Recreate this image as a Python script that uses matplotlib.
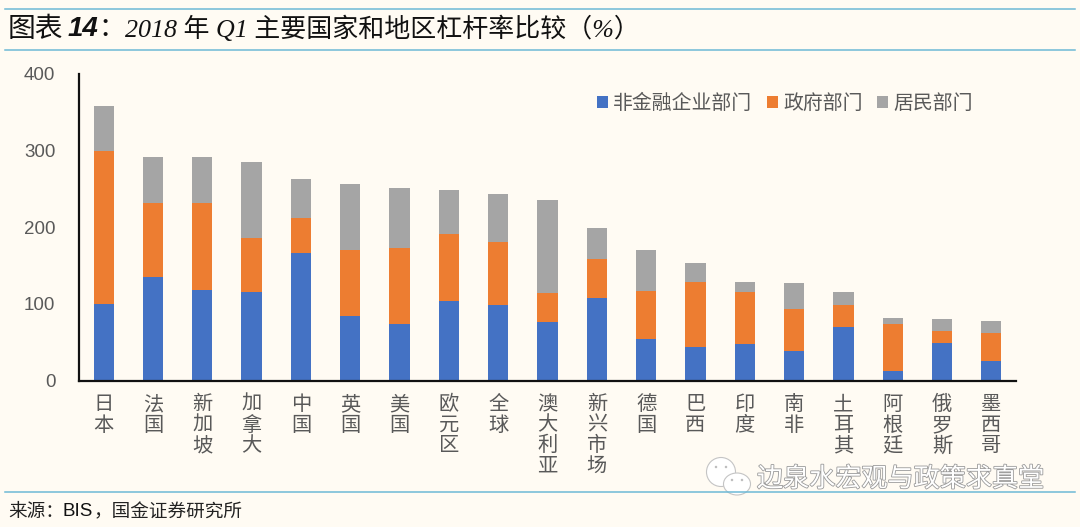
import matplotlib
matplotlib.use('Agg')
import matplotlib.pyplot as plt
import matplotlib.patheffects as pe
from matplotlib.patches import Ellipse
import numpy as np

plt.rcParams['font.family'] = ['Liberation Sans', 'Noto Sans CJK SC', 'DejaVu Sans']

countries = ['日本', '法国', '新加坡', '加拿大', '中国', '英国', '美国', '欧元区', '全球', '澳大利亚',
             '新兴市场', '德国', '巴西', '印度', '南非', '土耳其', '阿根廷', '俄罗斯', '墨西哥']
corporate = [100, 135, 118, 115, 166, 84, 74, 104, 98, 76, 108, 54, 44, 47, 38, 70, 13, 49, 26]
government = [200, 97, 114, 71, 46, 86, 99, 87, 83, 38, 50, 63, 84, 69, 55, 28, 61, 15, 36]
household = [58, 60, 60, 99, 51, 87, 78, 58, 62, 122, 41, 53, 25, 12, 34, 17, 7, 16, 16]
series_names = ['非金融企业部门', '政府部门', '居民部门']
yticks = [0, 100, 200, 300, 400]

BG = '#FFFBF3'
W, H = 1080, 527
fig = plt.figure(figsize=(W / 100, H / 100), dpi=100, facecolor=BG)

# axes placed in pixels of the reference
ax = fig.add_axes([79 / W, 1 - 380.5 / H, (1016 - 79) / W, (380.5 - 74) / H], facecolor=BG)
x = np.arange(len(countries))
corporate, government, household = map(np.array, (corporate, government, household))
ax.bar(x, corporate, 0.41, color='#4472C4', label=series_names[0])
ax.bar(x, government, 0.41, bottom=corporate, color='#ED7D31', label=series_names[1])
ax.bar(x, household, 0.41, bottom=corporate + government, color='#A5A5A5', label=series_names[2])

ax.set_xlim(-0.5, 18.5)
ax.set_ylim(0, 400)
ax.set_yticks(yticks)
ax.set_xticks(x)
ax.set_xticklabels(['\n'.join(c) for c in countries], linespacing=1.1, va='top')
ax.tick_params(axis='x', length=0, pad=10.5, labelsize=14.6, labelcolor='#595959')
ax.tick_params(axis='y', length=0, pad=17, labelsize=13.5, labelcolor='#595959')
for s in ('top', 'right'):
    ax.spines[s].set_visible(False)
for s in ('left', 'bottom'):
    ax.spines[s].set_linewidth(1.6)
    ax.spines[s].set_color('#111111')

ax.legend(loc='upper left', bbox_to_anchor=(0.553, 0.935), ncol=3, frameon=False, fontsize=14.3,
          labelcolor='#595959', handlelength=0.55, handleheight=0.55, handletextpad=0.25, columnspacing=0.75,
          borderpad=0, borderaxespad=0)

# header / footer rules
for yp in (9, 50, 492):
    fig.add_artist(plt.Line2D([5 / W, 1075 / W], [1 - yp / H] * 2, color='#6DB9D6', lw=1.1))

fig.text(8 / W, 1 - 29 / H, '图表', fontsize=20, color='#111111', va='center', family=['Noto Sans CJK SC'])
fig.text(68 / W, 1 - 29 / H, '14', fontsize=20, fontweight='bold', style='italic', color='#111111', va='center')
fig.text(98 / W, 1 - 29 / H, '：', fontsize=19, color='#111111', va='center', family=['Noto Sans CJK SC'])
fig.text(125 / W, 1 - 29 / H, '2018 年 Q1 主要国家和地区杠杆率比较（%）', fontsize=18.7, color='#111111', va='center',
         style='italic', family=['Liberation Serif', 'Noto Sans CJK SC'])
fig.text(8 / W, 1 - 512 / H, '来源：', fontsize=13.4, color='#222222', va='center', family=['Noto Sans CJK SC'])
fig.text(63 / W, 1 - 512 / H, 'BIS', fontsize=13.5, color='#111111', va='center')
fig.text(94 / W, 1 - 512 / H, '，国金证券研究所', fontsize=13.4, color='#222222', va='center', family=['Noto Sans CJK SC'])

# watermark
fig.text(757 / W, 1 - 479 / H, '边泉水宏观与政策求真堂', fontsize=18.8, color='#FFFFFF', va='center',
         family=['Noto Sans CJK SC'],
         path_effects=[pe.withStroke(linewidth=1.2, foreground='#9A9A9A')], zorder=5)
bg_ax = fig.add_axes([0, 0, 1, 1], facecolor='none')
bg_ax.set_xlim(0, W)
bg_ax.set_ylim(H, 0)
bg_ax.axis('off')
for cx, cy, w, h in ((721, 472, 29, 29), (737, 484, 27, 22)):
    bg_ax.add_patch(Ellipse((cx, cy), w, h, fc='#FFFFFF', ec='#C4C4C4', lw=0.8))
for ex, ey in ((716, 467), (726, 467), (732, 480), (742, 480)):
    bg_ax.add_patch(Ellipse((ex, ey), 2.5, 2.5, fc='#BDBDBD', ec='none'))

fig.savefig('out.png', dpi=100, facecolor=BG)
